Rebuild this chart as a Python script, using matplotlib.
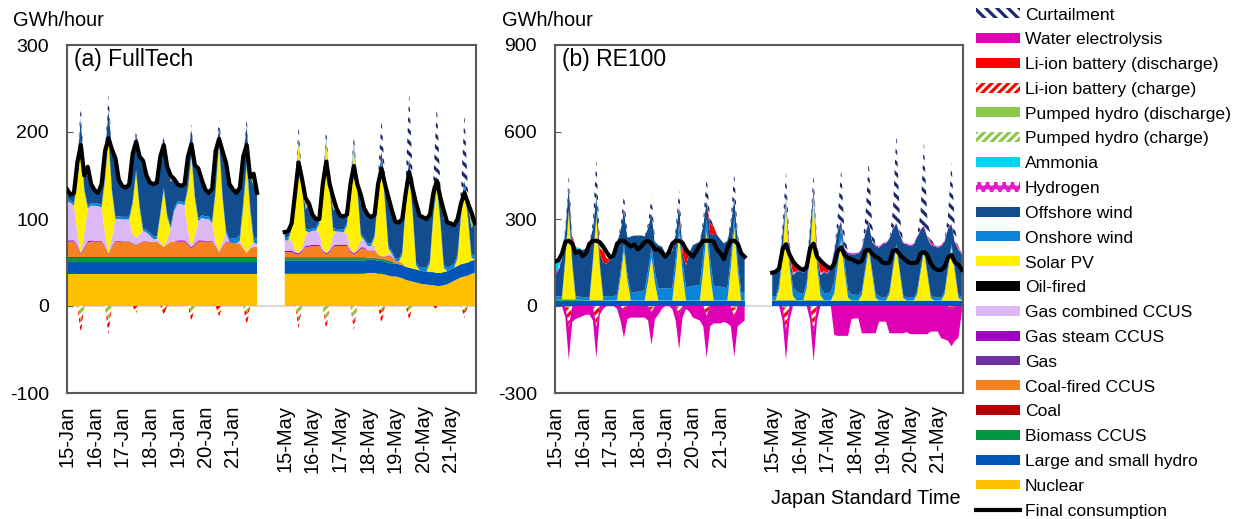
import numpy as np
import matplotlib
matplotlib.use("Agg")
from matplotlib import pyplot as plt
from matplotlib.patches import Patch
from matplotlib.lines import Line2D

plt.rcParams["font.family"] = ["Liberation Sans", "DejaVu Sans"]
plt.rcParams["hatch.linewidth"] = 2.3

# Generation in GWh/hour, sampled every 3 h (00, 03, ... 21 JST).
# One row per day: 15-21 Jan, then 15-21 May.
jan_labels = ["15-Jan", "16-Jan", "17-Jan", "18-Jan", "19-Jan", "20-Jan", "21-Jan"]
may_labels = ["15-May", "16-May", "17-May", "18-May", "19-May", "20-May", "21-May"]

# ---------------- (a) FullTech ----------------
ft_consumption = [
    134, 128, 130, 165, 185, 150, 160, 140,
    133, 130, 140, 178, 193, 180, 170, 145,
    138, 136, 140, 175, 189, 172, 167, 150,
    142, 140, 142, 172, 185, 160, 150, 146,
    140, 138, 140, 172, 186, 162, 158, 145,
    134, 130, 135, 178, 192, 178, 165, 140,
    134, 130, 136, 172, 185, 148, 152, 130,
    85, 86, 95, 130, 165, 146, 124, 118,
    105, 100, 100, 140, 166, 140, 125, 112,
    104, 103, 105, 140, 161, 140, 128, 112,
    105, 102, 105, 140, 158, 140, 125, 110,
    97, 96, 100, 130, 154, 135, 118, 104,
    102, 100, 105, 130, 144, 125, 110, 96,
    95, 93, 100, 118, 130, 118, 108, 95,
]
ft_nuclear = [
    37, 37, 37, 37, 37, 37, 37, 37,
    37, 37, 37, 37, 37, 37, 37, 37,
    37, 37, 37, 37, 37, 37, 37, 37,
    37, 37, 37, 37, 37, 37, 37, 37,
    37, 37, 37, 37, 37, 37, 37, 37,
    37, 37, 37, 37, 37, 37, 37, 37,
    37, 37, 37, 37, 37, 37, 37, 37,
    37, 37, 37, 37, 37, 37, 37, 37,
    37, 37, 37, 37, 37, 37, 37, 37,
    37, 37, 37, 37, 37, 37, 37, 37,
    38, 38, 38, 37, 37, 36, 35, 34,
    34, 33, 32, 30, 29, 28, 27, 26,
    25, 25, 24, 24, 23, 23, 24, 25,
    27, 29, 31, 33, 34, 35, 37, 38,
]
# daily levels (one value per day)
ft_hydro_daily = [14, 14, 14, 14, 14, 14, 14, 15, 15, 15, 15, 15, 15, 15]
ft_biomass_daily = [4, 4, 4, 4, 4, 4, 4, 3, 3, 3, 2, 0, 0, 0]
ft_coal_daily = [1, 1, 1, 1, 1, 1, 1, 1, 1, 1, 0.5, 0, 0, 0]
ft_gas_steam_daily = [1.5, 1, 0.5, 0, 1.5, 1, 0, 1.5, 1.5, 1.5, 0.5, 0, 0, 0]
ft_onshore_daily = [3, 3, 3, 3, 3, 3, 6, 3, 3, 3, 3, 3, 4, 4]
ft_coal_ccus = [
    18, 18, 18, 12, 3, 10, 17, 18,
    18, 18, 18, 12, 3, 12, 18, 18,
    18, 18, 18, 16, 14, 16, 18, 18,
    18, 18, 18, 15, 12, 15, 18, 18,
    18, 18, 18, 14, 10, 14, 18, 18,
    18, 18, 18, 12, 5, 12, 17, 17,
    16, 16, 16, 10, 5, 10, 12, 12,
    6, 6, 6, 4, 3, 6, 12, 12,
    13, 13, 13, 6, 3, 6, 12, 13,
    13, 13, 13, 6, 3, 6, 10, 10,
    8, 8, 8, 4, 2, 3, 5, 5,
    3, 3, 2, 0, 0, 0, 0, 0,
    0, 0, 0, 0, 0, 0, 0, 0,
    0, 0, 0, 0, 0, 0, 0, 0,
]
ft_gas_cc = [
    45, 43, 40, 15, 0, 15, 38, 40,
    40, 40, 38, 15, 0, 10, 25, 25,
    25, 25, 25, 10, 8, 10, 12, 10,
    7, 3, 3, 3, 0, 5, 15, 35,
    42, 42, 40, 15, 0, 10, 22, 26,
    25, 25, 20, 5, 0, 5, 10, 0,
    0, 0, 3, 3, 0, 3, 5, 3,
    12, 12, 12, 3, 0, 3, 12, 15,
    16, 16, 14, 3, 0, 3, 12, 15,
    15, 14, 12, 3, 0, 3, 8, 8,
    5, 5, 5, 0, 0, 0, 3, 3,
    0, 0, 0, 0, 0, 0, 0, 0,
    0, 0, 0, 0, 0, 0, 0, 0,
    0, 0, 0, 0, 0, 0, 0, 0,
]
ft_solar = [
    0, 0, 0, 57, 127, 50, 0, 0,
    0, 0, 0, 60, 131, 52, 0, 0,
    0, 0, 0, 35, 75, 30, 0, 0,
    0, 0, 0, 30, 65, 26, 0, 0,
    0, 0, 0, 48, 105, 42, 0, 0,
    0, 0, 0, 57, 125, 50, 0, 0,
    0, 0, 0, 45, 100, 40, 0, 0,
    0, 0, 13, 70, 127, 75, 5, 0,
    0, 0, 10, 70, 128, 68, 5, 0,
    0, 0, 10, 68, 120, 66, 5, 0,
    0, 0, 10, 66, 107, 62, 5, 0,
    0, 0, 10, 70, 107, 64, 5, 0,
    0, 0, 10, 64, 98, 58, 5, 0,
    0, 0, 9, 55, 84, 50, 4, 0,
]
ft_offshore = [
    10.5, 6.5, 11.5, 20.5, 27.5, 14.5, 34.5, 21.5,
    15, 12, 24, 31, 32, 46, 58, 42,
    35.5, 33.5, 37.5, 54.5, 40.5, 56.5, 68.5, 62.5,
    58, 60, 62, 65, 59, 55, 51, 34,
    19.5, 17.5, 21.5, 34.5, 28.5, 35.5, 51.5, 40.5,
    31, 27, 37, 44, 14, 51, 67, 63,
    56, 52, 55, 52, 41, 33, 60, 53,
    6.5, 7.5, 3.5, 3, 2, 3, 21.5, 30.5,
    15.5, 10.5, 2.5, 2, 2.5, 2.5, 20.5, 23.5,
    15.5, 15.5, 9.5, 2.5, 5.5, 4.5, 34.5, 33.5,
    33, 30, 23, 12, 12, 18, 50, 47,
    42, 42, 38, 12, 16, 25, 61, 60,
    58, 56, 52, 23, 10, 25, 52, 52,
    49, 45, 41, 11, 7, 14, 30, 38,
]
# storage flows: charge at 12:00, discharge at 18:00 (one value per day)
ft_ph_charge_noon = [18, 18, 0, 0, 8, 0, 8, 16, 18, 18, 6, 6, 0, 6]
ft_li_charge_noon = [15, 15, 8, 10, 10, 12, 15, 10, 10, 10, 15, 10, 6, 8]
ft_ph_discharge_eve = [4, 4, 3, 2, 3, 3, 5, 5, 5, 5, 3, 2, 2, 8]
ft_li_discharge_eve = [6, 5, 6, 5, 3, 8, 8, 8, 10, 4, 3, 5, 8, 10]
ft_curtailment = [
    0, 0, 0, 0, 15, 0, 0, 0,
    0, 0, 0, 0, 17, 0, 0, 0,
    0, 0, 0, 0, 5, 0, 0, 0,
    0, 0, 0, 0, 3, 0, 0, 0,
    0, 0, 0, 0, 5, 0, 0, 0,
    0, 0, 0, 0, 10, 0, 0, 0,
    0, 0, 0, 0, 8, 0, 0, 0,
    0, 0, 0, 0, 15, 0, 0, 0,
    0, 0, 0, 0, 12, 0, 0, 0,
    0, 0, 0, 0, 10, 0, 0, 0,
    0, 0, 0, 10, 37, 10, 0, 0,
    0, 0, 0, 15, 76, 15, 0, 0,
    0, 0, 0, 15, 83, 15, 0, 0,
    0, 0, 0, 15, 78, 15, 0, 0,
]

# ---------------- (b) RE100 ----------------
re_consumption = [
    153, 158, 180, 220, 225, 215, 182, 190,
    172, 182, 215, 225, 225, 220, 205, 185,
    168, 175, 215, 225, 225, 215, 205, 212,
    195, 205, 220, 225, 215, 195, 195, 185,
    170, 185, 215, 225, 225, 218, 195, 180,
    170, 190, 210, 225, 225, 225, 222, 195,
    182, 162, 200, 225, 225, 215, 182, 170,
    115, 118, 130, 195, 213, 178, 155, 140,
    130, 124, 135, 200, 215, 170, 157, 145,
    135, 130, 145, 190, 202, 175, 165, 162,
    155, 150, 155, 190, 195, 180, 170, 163,
    150, 147, 150, 190, 193, 178, 165, 155,
    148, 148, 150, 180, 187, 175, 147, 130,
    124, 124, 135, 168, 176, 150, 142, 125,
]
re_hydro_daily = [18, 18, 18, 18, 18, 18, 18, 18, 18, 18, 18, 18, 18, 18]
re_biomass_daily = [5, 2, 1, 1, 1, 1, 1, 2, 2, 1, 1, 1, 1, 1]
re_solar = [
    0, 0, 0, 135, 300, 120, 0, 0,
    0, 0, 0, 130, 288, 115, 0, 0,
    0, 0, 0, 78, 173, 69, 0, 0,
    0, 0, 0, 68, 150, 60, 0, 0,
    0, 0, 0, 104, 231, 92, 0, 0,
    0, 0, 0, 107, 237, 95, 0, 0,
    0, 0, 0, 114, 254, 102, 0, 0,
    0, 0, 40, 150, 330, 120, 15, 0,
    0, 0, 42, 160, 350, 120, 17, 0,
    0, 0, 25, 120, 210, 100, 10, 0,
    0, 0, 20, 100, 175, 90, 9, 0,
    0, 0, 22, 105, 185, 95, 9, 0,
    0, 0, 20, 95, 170, 88, 8, 0,
    0, 0, 22, 105, 185, 95, 9, 0,
]
re_onshore = [
    10, 10, 10, 10, 10, 10, 10, 10,
    10, 10, 10, 10, 10, 10, 12, 14,
    15, 15, 18, 20, 20, 22, 25, 28,
    30, 32, 35, 35, 35, 38, 40, 42,
    42, 42, 44, 40, 35, 40, 45, 48,
    50, 52, 54, 50, 45, 48, 50, 50,
    48, 45, 42, 38, 35, 32, 30, 28,
    12, 12, 15, 20, 20, 25, 30, 30,
    25, 20, 20, 20, 20, 25, 28, 25,
    25, 30, 40, 50, 45, 30, 25, 20,
    20, 18, 15, 15, 15, 15, 15, 15,
    10, 10, 10, 10, 10, 10, 10, 10,
    10, 10, 10, 10, 10, 10, 10, 10,
    10, 10, 10, 10, 10, 10, 10, 10,
]
re_offshore = [
    74, 89, 129, 92, 82, 52, 157, 162,
    163, 169, 186, 110, 67, 35, 118, 111,
    126, 151, 183, 143, 123, 125, 196, 196,
    194, 192, 186, 148, 116, 99, 151, 144,
    121, 121, 127, 87, 65, 29, 76, 118,
    141, 145, 149, 104, 64, 88, 176, 176,
    163, 152, 164, 109, 67, 74, 131, 123,
    77, 83, 57, 67, 7, 12, 42, 67,
    76, 75, 50, 67, 18, 12, 42, 72,
    67, 82, 105, 72, 18, 47, 127, 139,
    139, 144, 142, 117, 77, 97, 163, 167,
    183, 189, 180, 132, 72, 122, 180, 183,
    177, 182, 187, 137, 76, 119, 173, 177,
    172, 177, 172, 132, 67, 94, 158, 149,
]
re_hydrogen = [
    8, 8, 8, 0, 0, 0, 0, 0,
    0, 0, 0, 0, 0, 0, 0, 0,
    0, 0, 0, 0, 0, 0, 0, 0,
    0, 0, 0, 0, 0, 0, 0, 0,
    0, 0, 0, 0, 0, 0, 0, 0,
    0, 0, 0, 0, 0, 0, 0, 0,
    0, 0, 0, 0, 0, 0, 0, 0,
    3, 3, 3, 3, 3, 3, 3, 3,
    3, 3, 3, 3, 3, 3, 3, 3,
    4, 4, 4, 4, 4, 4, 4, 4,
    4, 4, 4, 4, 4, 4, 4, 4,
    4, 4, 4, 4, 4, 4, 4, 4,
    4, 4, 4, 4, 4, 4, 4, 4,
    4, 4, 4, 4, 4, 4, 4, 4,
]
re_ammonia = [
    35, 30, 20, 0, 0, 5, 10, 5,
] + [0] * 104
re_li_discharge = [
    0, 0, 0, 0, 0, 25, 0, 0,
    0, 0, 0, 0, 0, 20, 40, 20,
    0, 0, 0, 0, 0, 0, 0, 0,
    0, 0, 0, 0, 0, 0, 0, 0,
    0, 0, 0, 0, 0, 20, 50, 0,
    0, 0, 0, 0, 0, 35, 30, 0,
    0, 0, 0, 0, 0, 0, 5, 0,
    0, 0, 0, 0, 0, 20, 35, 10,
    0, 0, 0, 0, 0, 20, 35, 15,
    20, 0, 0, 0, 0, 0, 0, 0,
    0, 0, 0, 0, 0, 0, 0, 0,
    0, 0, 0, 0, 0, 0, 0, 0,
    0, 0, 0, 0, 0, 0, 8, 0,
    0, 0, 0, 0, 0, 0, 5, 0,
]
re_ph_discharge_eve = [5, 0, 0, 0, 0, 0, 0, 5, 5, 0, 0, 0, 0, 0]
re_ph_charge_noon = [8, 8, 5, 5, 5, 8, 8, 12, 12, 0, 0, 0, 0, 2]
re_li_charge_noon = [65, 65, 10, 15, 25, 25, 30, 70, 75, 0, 0, 0, 0, 8]
re_electrolysis = [
    0, 0, 0, 40, 113, 55, 45, 40,
    35, 30, 30, 50, 107, 30, 10, 0,
    0, 0, 10, 50, 95, 45, 40, 40,
    40, 40, 40, 50, 115, 45, 30, 10,
    0, 0, 10, 50, 120, 40, 10, 20,
    40, 45, 50, 70, 147, 70, 60, 60,
    60, 55, 60, 70, 137, 70, 60, 50,
    0, 0, 0, 50, 104, 50, 0, 0,
    0, 0, 0, 50, 105, 50, 0, 0,
    0, 0, 100, 103, 103, 103, 103, 45,
    43, 43, 94, 94, 94, 94, 94, 54,
    54, 54, 94, 94, 94, 94, 94, 90,
    97, 97, 97, 97, 97, 97, 88, 88,
    88, 111, 115, 120, 129, 120, 110, 20,
]
re_curtailment = [
    0, 0, 0, 10, 37, 10, 0, 0,
    0, 0, 0, 20, 124, 20, 0, 0,
    0, 0, 0, 15, 53, 15, 0, 0,
    0, 0, 0, 15, 57, 15, 0, 0,
    0, 0, 0, 15, 50, 15, 0, 0,
    0, 0, 0, 20, 81, 20, 0, 0,
    0, 0, 0, 20, 88, 20, 0, 0,
    0, 0, 0, 20, 83, 20, 0, 0,
    0, 0, 0, 15, 45, 15, 0, 0,
    0, 0, 0, 45, 178, 45, 0, 0,
    0, 0, 0, 50, 213, 50, 0, 0,
    0, 0, 0, 60, 311, 60, 0, 0,
    0, 0, 0, 55, 288, 55, 20, 0,
    0, 0, 0, 45, 212, 45, 0, 0,
]

# face colour, hatch, hatch colour
STYLE = {
    "Curtailment": ("white", "\\\\\\", "#1B2B6A"),
    "Water electrolysis": ("#E000B4", None, None),
    "Li-ion battery (discharge)": ("#FF0000", None, None),
    "Li-ion battery (charge)": ("white", "////", "#FF0000"),
    "Pumped hydro (discharge)": ("#8CC84B", None, None),
    "Pumped hydro (charge)": ("white", "////", "#8CC84B"),
    "Ammonia": ("#00D4F0", None, None),
    "Hydrogen": ("#E31BC8", "..", "white"),
    "Offshore wind": ("#124E8F", None, None),
    "Onshore wind": ("#0A84D8", None, None),
    "Solar PV": ("#FFEF00", None, None),
    "Oil-fired": ("#000000", None, None),
    "Gas combined CCUS": ("#DCB9F5", None, None),
    "Gas steam CCUS": ("#A000C0", None, None),
    "Gas": ("#7030A0", None, None),
    "Coal-fired CCUS": ("#F58220", None, None),
    "Coal": ("#B40000", None, None),
    "Biomass CCUS": ("#009640", None, None),
    "Large and small hydro": ("#0055B8", None, None),
    "Nuclear": ("#FFC000", None, None),
}

HOURS = 3 * np.arange(56)
MAY_OFFSET = 189
SPINE = "#595959"


def daily(values):
    return np.repeat(np.asarray(values, float), 8)


def at_slot(values, slot):
    out = np.zeros((14, 8))
    out[:, slot] = values
    return out.ravel()


def fill_layer(ax, x, lo, hi, name):
    face, hatch, hc = STYLE[name]
    if hatch:
        ax.fill_between(x, lo, hi, facecolor=face, edgecolor=hc,
                        hatch=hatch, linewidth=0, zorder=2)
    else:
        ax.fill_between(x, lo, hi, facecolor=face, linewidth=0, zorder=2)


def draw_panel(ax, supply, demand, consumption, ylim, yticks, title):
    consumption = np.asarray(consumption, float)
    for day0, offset in [(0, 0), (7, MAY_OFFSET)]:
        rows = slice(day0 * 8, day0 * 8 + 56)
        x = offset + HOURS
        lo = np.zeros(56)
        for name, values in supply:
            hi = lo + np.asarray(values, float)[rows]
            fill_layer(ax, x, lo, hi, name)
            lo = hi
        lo = np.zeros(56)
        for name, values in demand:
            hi = lo - np.asarray(values, float)[rows]
            fill_layer(ax, x, lo, hi, name)
            lo = hi
        ax.plot(x, consumption[rows], color="black", lw=3, zorder=5)

    ax.axhline(0, color="#D9D9D9", lw=1.5, zorder=1)
    ax.set_xlim(0, 355)
    ax.set_ylim(*ylim)
    ax.set_yticks(yticks)
    ax.set_yticklabels([str(t) for t in yticks])
    ticks = [24 * i for i in range(7)] + [MAY_OFFSET + 24 * i for i in range(7)]
    ax.set_xticks(ticks)
    ax.set_xticklabels(jan_labels + may_labels)
    ax.tick_params(axis="x", length=0, pad=9, labelsize=14.5, labelrotation=90)
    ax.tick_params(axis="y", direction="in", length=4, pad=13, labelsize=14,
                   color=SPINE)
    for sp in ax.spines.values():
        sp.set_color(SPINE)
        sp.set_linewidth(1.5)
    ax.text(0.016, 0.957, title, transform=ax.transAxes, fontsize=16.5,
            va="center", ha="left")


fig = plt.figure(figsize=(12.41, 5.19), dpi=100)
ax_a = fig.add_axes([67 / 1241, 126 / 519, 409 / 1241, 348 / 519])
ax_b = fig.add_axes([555 / 1241, 126 / 519, 408 / 1241, 348 / 519])

ft_supply = [
    ("Nuclear", ft_nuclear),
    ("Large and small hydro", daily(ft_hydro_daily)),
    ("Biomass CCUS", daily(ft_biomass_daily)),
    ("Coal", daily(ft_coal_daily)),
    ("Coal-fired CCUS", ft_coal_ccus),
    ("Gas steam CCUS", daily(ft_gas_steam_daily)),
    ("Gas combined CCUS", ft_gas_cc),
    ("Solar PV", ft_solar),
    ("Onshore wind", daily(ft_onshore_daily)),
    ("Offshore wind", ft_offshore),
    ("Pumped hydro (discharge)", at_slot(ft_ph_discharge_eve, 6)),
    ("Li-ion battery (discharge)", at_slot(ft_li_discharge_eve, 6)),
    ("Curtailment", ft_curtailment),
]
ft_demand = [
    ("Pumped hydro (charge)", at_slot(ft_ph_charge_noon, 4)),
    ("Li-ion battery (charge)", at_slot(ft_li_charge_noon, 4)),
]
re_supply = [
    ("Large and small hydro", daily(re_hydro_daily)),
    ("Biomass CCUS", daily(re_biomass_daily)),
    ("Solar PV", re_solar),
    ("Onshore wind", re_onshore),
    ("Offshore wind", re_offshore),
    ("Hydrogen", re_hydrogen),
    ("Ammonia", re_ammonia),
    ("Pumped hydro (discharge)", at_slot(re_ph_discharge_eve, 6)),
    ("Li-ion battery (discharge)", re_li_discharge),
    ("Curtailment", re_curtailment),
]
re_demand = [
    ("Pumped hydro (charge)", at_slot(re_ph_charge_noon, 4)),
    ("Li-ion battery (charge)", at_slot(re_li_charge_noon, 4)),
    ("Water electrolysis", re_electrolysis),
]

draw_panel(ax_a, ft_supply, ft_demand, ft_consumption, (-100, 300),
           [-100, 0, 100, 200, 300], "(a) FullTech")
draw_panel(ax_b, re_supply, re_demand, re_consumption, (-300, 900),
           [-300, 0, 300, 600, 900], "(b) RE100")

fig.text(13 / 1241, 1 - 20 / 519, "GWh/hour", fontsize=14.4, va="center", ha="left")
fig.text(502 / 1241, 1 - 20 / 519, "GWh/hour", fontsize=14.4, va="center", ha="left")
fig.text(866 / 1241, 1 - 498 / 519, "Japan Standard Time", fontsize=14.3,
         va="center", ha="center")

handles = []
for name, (face, hatch, hc) in STYLE.items():
    if hatch:
        handles.append(Patch(facecolor=face, edgecolor=hc, hatch=hatch, lw=0, label=name))
    else:
        handles.append(Patch(facecolor=face, lw=0, label=name))
handles.append(Line2D([], [], color="black", lw=3, label="Final consumption"))

fig.legend(handles=handles, loc="upper left", bbox_to_anchor=(976 / 1241, 1 - 7.5 / 519),
           frameon=False, fontsize=12.6, handlelength=2.5, handleheight=0.5,
           handletextpad=0.3, labelspacing=0.56, borderpad=0, borderaxespad=0)

fig.savefig("out.png", dpi=100)
